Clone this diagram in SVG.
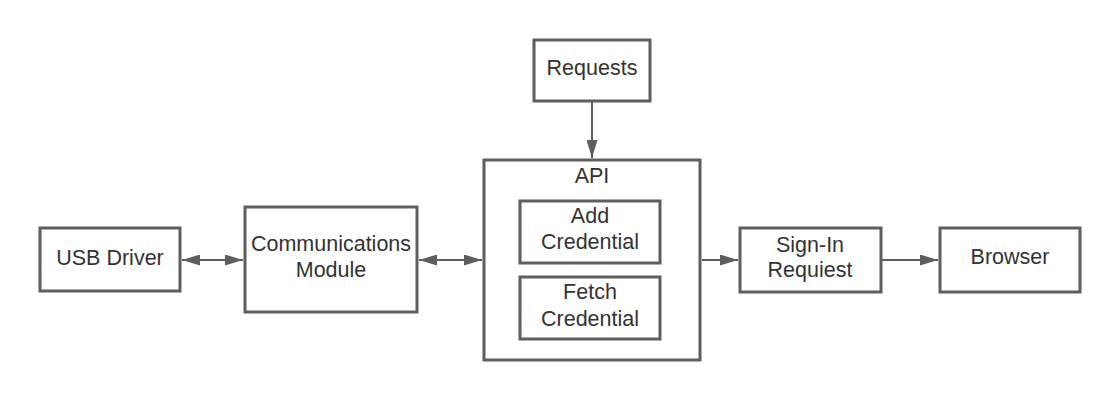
<svg xmlns="http://www.w3.org/2000/svg" width="1120" height="400" viewBox="0 0 1120 400">
<style>
.box{fill:#fff;stroke:#5e5e5e;stroke-width:3}
.t{font-family:"Liberation Sans",Arial,sans-serif;font-size:21.5px;fill:#333;text-anchor:middle}
.c{stroke:#5e5e5e;stroke-width:2;fill:none}
</style>
<defs>
<marker id="ah" viewBox="0 0 18 11" refX="18" refY="5.5" markerWidth="18" markerHeight="11" markerUnits="userSpaceOnUse" orient="auto-start-reverse">
<path d="M0,0 L18,5.5 L0,11 z" fill="#5e5e5e"/>
</marker>
</defs>
<rect width="1120" height="400" fill="#fff"/>
<g id="connectors">
<line class="c" x1="182" y1="260" x2="243" y2="260" marker-start="url(#ah)" marker-end="url(#ah)"/>
<line class="c" x1="419" y1="260" x2="482" y2="260" marker-start="url(#ah)" marker-end="url(#ah)"/>
<line class="c" x1="702" y1="260" x2="738" y2="260" marker-end="url(#ah)"/>
<line class="c" x1="882" y1="260" x2="938" y2="260" marker-end="url(#ah)"/>
<line class="c" x1="592" y1="102" x2="592" y2="158" marker-end="url(#ah)"/>
</g>
<g id="usb"><rect class="box" x="40" y="228" width="140" height="63"/><text class="t" x="110" y="265">USB Driver</text></g>
<g id="comm"><rect class="box" x="245" y="207" width="172" height="105"/><text class="t" x="331" y="251">Communications</text><text class="t" x="331" y="277">Module</text></g>
<g id="requests"><rect class="box" x="534" y="40" width="116" height="61"/><text class="t" x="592" y="75">Requests</text></g>
<g id="api"><rect class="box" x="484" y="160" width="216" height="200"/><text class="t" x="592" y="183">API</text>
<g id="add"><rect class="box" x="520" y="201" width="140" height="62"/><text class="t" x="590" y="223">Add</text><text class="t" x="590" y="249">Credential</text></g>
<g id="fetch"><rect class="box" x="520" y="277" width="140" height="62"/><text class="t" x="590" y="299">Fetch</text><text class="t" x="590" y="326">Credential</text></g>
</g>
<g id="signin"><rect class="box" x="740" y="228" width="141" height="64"/><text class="t" x="810" y="252">Sign-In</text><text class="t" x="810" y="277">Requiest</text></g>
<g id="browser"><rect class="box" x="940" y="228" width="140" height="64"/><text class="t" x="1010" y="264">Browser</text></g>
</svg>
